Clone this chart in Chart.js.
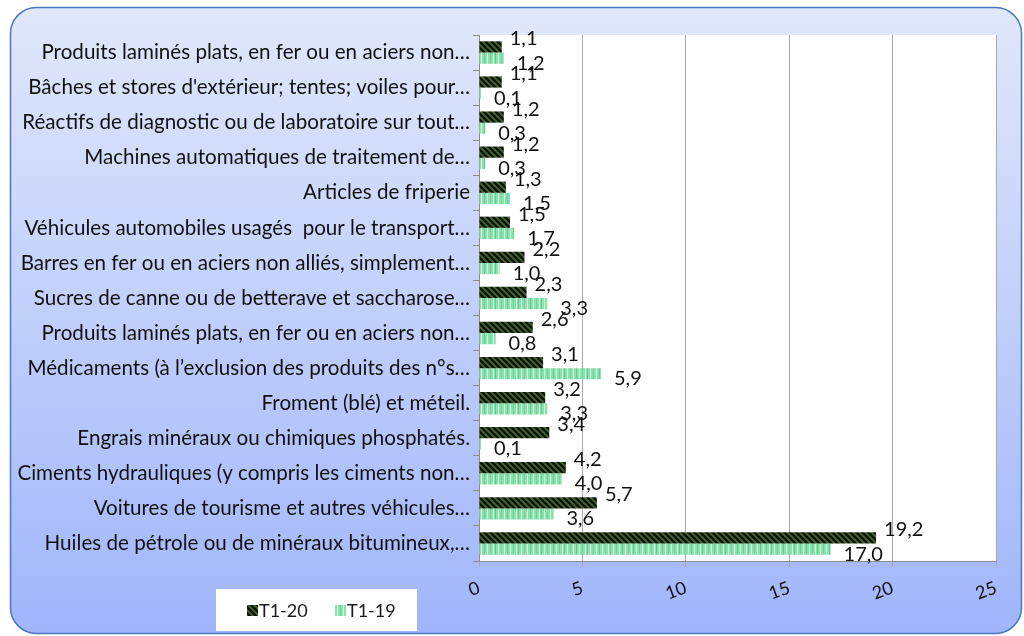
<!DOCTYPE html>
<html>
<head>
<meta charset="utf-8">
<script src="https://cdn.jsdelivr.net/npm/chart.js@4"></script>
<style>
  html, body { margin: 0; padding: 0; background: #fff; }
  #wrap { width: 1024px; height: 636px; }
</style>
</head>
<body>
<div id="wrap"><canvas id="chart"></canvas></div>
<script>
// top-to-bottom order as in the chart
const labels = [
  'Produits laminés plats, en fer ou en aciers non…',
  "Bâches et stores d'extérieur; tentes; voiles pour…",
  'Réactifs de diagnostic ou de laboratoire sur tout…',
  'Machines automatiques de traitement de…',
  'Articles de friperie',
  'Véhicules automobiles usagés  pour le transport…',
  'Barres en fer ou en aciers non alliés, simplement…',
  'Sucres de canne ou de betterave et saccharose…',
  'Produits laminés plats, en fer ou en aciers non…',
  'Médicaments (à l’exclusion des produits des n°s…',
  'Froment (blé) et méteil.',
  'Engrais minéraux ou chimiques phosphatés.',
  'Ciments hydrauliques (y compris les ciments non…',
  'Voitures de tourisme et autres véhicules…',
  'Huiles de pétrole ou de minéraux bitumineux,…'
];
const t1_20 = [1.1, 1.1, 1.2, 1.2, 1.3, 1.5, 2.2, 2.3, 2.6, 3.1, 3.2, 3.4, 4.2, 5.7, 19.2];
const t1_19 = [1.2, 0.1, 0.3, 0.3, 1.5, 1.7, 1.0, 3.3, 0.8, 5.9, 3.3, 0.1, 4.0, 3.6, 17.0];
const xTicks = [0, 5, 10, 15, 20, 25];

const FONT = 'Lato, "Open Sans", sans-serif';

// dark hatched fill for T1-20
function darkPattern() {
  const c = document.createElement('canvas');
  c.width = 6; c.height = 6;
  const g = c.getContext('2d');
  g.fillStyle = '#476630';
  g.fillRect(0, 0, 6, 6);
  g.strokeStyle = '#0c1408';
  g.lineWidth = 2.4;
  g.beginPath();
  g.moveTo(-1, -1); g.lineTo(7, 7);
  g.moveTo(-4, 2); g.lineTo(4, 10);
  g.moveTo(2, -4); g.lineTo(10, 4);
  g.stroke();
  return g.createPattern(c, 'repeat');
}

// light green with vertical streaks for T1-19
function lightPattern() {
  const c = document.createElement('canvas');
  c.width = 23; c.height = 4;
  const g = c.getContext('2d');
  g.fillStyle = '#8fe0b0';
  g.fillRect(0, 0, 23, 4);
  const lines = [[1, '#52d486'], [4, '#cdf4dc'], [7, '#62d891'], [10, '#d6f7e3'], [12, '#52d486'],
                 [15, '#cdf4dc'], [18, '#62d891'], [21, '#d6f7e3']];
  lines.forEach(([x, col]) => { g.fillStyle = col; g.fillRect(x, 0, 1, 4); });
  return g.createPattern(c, 'repeat');
}

const fillA = darkPattern();
const fillB = lightPattern();

const frame = {
  id: 'frame',
  beforeDraw(chart) {
    const ctx = chart.ctx;
    const a = chart.chartArea;
    ctx.save();
    ctx.fillStyle = '#ffffff';
    ctx.fillRect(0, 0, chart.width, chart.height);
    const x = 10.5, y = 7.5, w = 1011, h = 626, r = 26;
    const grad = ctx.createLinearGradient(0, y, 0, y + h);
    grad.addColorStop(0, '#e1e8fb');
    grad.addColorStop(1, '#a0b5fb');
    ctx.beginPath();
    ctx.roundRect(x, y, w, h, r);
    ctx.fillStyle = grad;
    ctx.fill();
    ctx.lineWidth = 1.5;
    ctx.strokeStyle = '#4a78c4';
    ctx.stroke();
    ctx.fillStyle = '#ffffff';
    ctx.fillRect(a.left, a.top, a.right - a.left, a.bottom - a.top);
    ctx.restore();
  },
  afterDraw(chart) {
    // legend box
    const ctx = chart.ctx;
    ctx.save();
    ctx.fillStyle = '#ffffff';
    ctx.fillRect(216, 589, 201, 42);
    ctx.font = '18px ' + FONT;
    ctx.textBaseline = 'middle';
    const items = [[247, chart.data.datasets[0]], [335, chart.data.datasets[1]]];
    items.forEach(([lx, ds]) => {
      ctx.fillStyle = ds.backgroundColor;
      ctx.fillRect(lx, 605, 11, 11);
      ctx.fillStyle = '#1a1a1a';
      ctx.fillText(ds.label, lx + 12, 611);
    });
    ctx.restore();
  }
};

const valueLabels = {
  id: 'valueLabels',
  afterDatasetsDraw(chart) {
    const ctx = chart.ctx;
    ctx.save();
    ctx.font = '20px ' + FONT;
    ctx.fillStyle = '#111111';
    ctx.textAlign = 'left';
    ctx.textBaseline = 'middle';
    chart.data.datasets.forEach((ds, di) => {
      chart.getDatasetMeta(di).data.forEach((bar, i) => {
        const txt = ds.data[i].toFixed(1).replace('.', ',');
        const dx = di === 0 ? 8 : 13;
        const dy = di === 0 ? -8 : 5;
        ctx.fillText(txt, bar.x + dx, bar.y + dy);
      });
    });
    ctx.restore();
  }
};

const config = {
  type: 'bar',
  data: {
    labels: labels,
    datasets: [{
      label: 'T1-20',
      data: t1_20,
      backgroundColor: fillA,
      borderWidth: 0
    }, {
      label: 'T1-19',
      data: t1_19,
      backgroundColor: fillB,
      borderWidth: 0
    }]
  },
  options: {
    indexAxis: 'y',
    responsive: true,
    maintainAspectRatio: false,
    animation: false,
    categoryPercentage: 0.64,
    barPercentage: 1.0,
    layout: { padding: { left: 0, top: 35, right: 28, bottom: 0 } },
    plugins: {
      legend: { display: false },
      tooltip: { enabled: false }
    },
    scales: {
      x: {
        min: 0,
        max: 25,
        afterFit: s => { s.height = 75; },
        afterBuildTicks: s => { s.ticks = xTicks.map(v => ({ value: v })); },
        grid: { color: '#a8a8a8', tickLength: 6 },
        border: { color: '#8c8c8c' },
        ticks: {
          minRotation: 20,
          maxRotation: 20,
          color: '#111111',
          font: { family: FONT, size: 18 },
          padding: 10
        }
      },
      y: {
        afterFit: s => { s.width = 479; },
        grid: { drawOnChartArea: false, offset: true, tickLength: 6, color: '#8c8c8c' },
        border: { color: '#8c8c8c' },
        ticks: {
          color: '#111111',
          font: { family: FONT, size: 20.6 },
          padding: 3,
          autoSkip: false
        }
      }
    }
  },
  plugins: [frame, valueLabels]
};

new Chart(document.getElementById('chart'), config);
</script>
</body>
</html>
